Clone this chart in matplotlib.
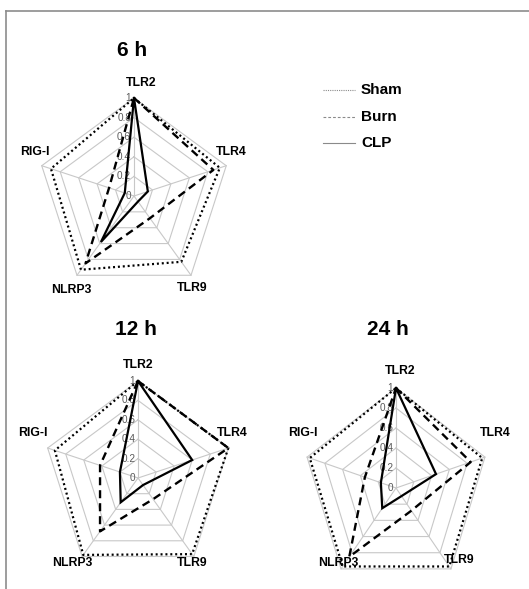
import numpy as np
import matplotlib
matplotlib.use("Agg")
import matplotlib.pyplot as plt
from matplotlib.lines import Line2D

plt.rcParams["font.family"] = ["Liberation Sans", "DejaVu Sans"]

# ---- data -------------------------------------------------------------
genes = ["TLR2", "TLR4", "TLR9", "NLRP3", "RIG-I"]
timepoints = ["6 h", "12 h", "24 h"]
groups = ["Sham", "Burn", "CLP"]
ring_values = [0, 0.2, 0.4, 0.6, 0.8, 1.0]
ring_labels = ["0", "0.2", "0.4", "0.6", "0.8", "1"]

sham_6h = [1.00, 0.93, 0.83, 0.93, 0.90]
burn_6h = [1.00, 0.86, 0.28, 0.85, 0.27]
clp_6h = [1.00, 0.15, 0.07, 0.58, 0.10]

sham_12h = [1.00, 1.00, 0.97, 0.98, 0.92]
burn_12h = [1.00, 1.00, 0.27, 0.68, 0.42]
clp_12h = [1.00, 0.60, 0.09, 0.31, 0.20]

sham_24h = [1.00, 0.97, 0.97, 0.97, 0.97]
burn_24h = [1.00, 0.84, 0.28, 0.85, 0.35]
clp_24h = [1.00, 0.45, 0.10, 0.25, 0.17]

series = {
    "6 h": [sham_6h, burn_6h, clp_6h],
    "12 h": [sham_12h, burn_12h, clp_12h],
    "24 h": [sham_24h, burn_24h, clp_24h],
}

# ---- layout (pixels) --------------------------------------------------
W, H = 529, 589
fig = plt.figure(figsize=(W / 100, H / 100), dpi=100)
fig.patch.set_facecolor("white")

panel_layout = {
    # centre x, centre y, radius x, radius y, title position
    "6 h": dict(c=(134, 196), r=(97, 98), title=(132, 50),
                lab=[(0.07, 1.15), (1.00, 0.45), (0.60, -0.94), (-0.65, -0.96), (-1.02, 0.45)]),
    "12 h": dict(c=(138, 478), r=(95, 97), title=(136, 329),
                 lab=[(0.00, 1.16), (0.99, 0.46), (0.57, -0.88), (-0.69, -0.88), (-1.11, 0.46)]),
    "24 h": dict(c=(396, 488), r=(93.5, 100), title=(388, 329),
                 lab=[(0.04, 1.17), (1.06, 0.55), (0.68, -0.72), (-0.62, -0.75), (-1.00, 0.55)]),
}

styles = [
    dict(color="black", lw=1.6, linestyle=(0, (0.9, 1.3)), dash_capstyle="butt"),
    dict(color="black", lw=1.7, linestyle=(0, (3.4, 2.1))),
    dict(color="black", lw=1.6, linestyle="-"),
]

angles = np.arange(len(genes)) * 2 * np.pi / len(genes)
ux, uy = np.sin(angles), np.cos(angles)
grid_color = "#c8c8c8"
PAD = 1.4

for tp in timepoints:
    lay = panel_layout[tp]
    cx, cy = lay["c"]
    rx, ry = lay["r"]
    ax = fig.add_axes([(cx - PAD * rx) / W, (H - cy - PAD * ry) / H,
                       2 * PAD * rx / W, 2 * PAD * ry / H])
    ax.set_xlim(-PAD, PAD)
    ax.set_ylim(-PAD, PAD)
    ax.axis("off")
    ax.patch.set_visible(False)

    # pentagon rings and spokes
    for v in ring_values[1:]:
        ax.plot(np.append(v * ux, v * ux[0]), np.append(v * uy, v * uy[0]),
                color=grid_color, lw=0.8, zorder=1)
    for k in range(len(genes)):
        ax.plot([0, ux[k]], [0, uy[k]], color=grid_color, lw=0.8, zorder=1)

    # radial tick labels along the TLR2 spoke
    for v, s in zip(ring_values, ring_labels):
        ax.text(-0.03, v, s, ha="right", va="center", fontsize=7.2,
                color="#5a5a5a", zorder=2)

    # group polygons
    for vals, st in zip(series[tp], styles):
        r = np.array(vals)
        ax.plot(np.append(r * ux, r[0] * ux[0]), np.append(r * uy, r[0] * uy[0]),
                zorder=3, solid_joinstyle="miter", **st)

    # gene labels
    for g, (lx, ly) in zip(genes, lay["lab"]):
        ax.text(lx, ly, g, ha="center", va="center", fontsize=8.8,
                fontweight="bold", color="black")

    # panel title
    tx, ty = lay["title"]
    fig.text(tx / W, 1 - ty / H, tp, ha="center", va="center",
             fontsize=15, fontweight="bold")

# ---- legend -----------------------------------------------------------
legend_y = [90, 117, 143]
legend_styles = [(0, (1.0, 1.0)), (0, (2.5, 1.8)), "-"]
for name, y, ls in zip(groups, legend_y, legend_styles):
    fig.add_artist(Line2D([323 / W, 355 / W], [1 - y / H, 1 - y / H],
                          transform=fig.transFigure, color="#8a8a8a",
                          lw=0.8, linestyle=ls))
    fig.text(361 / W, 1 - y / H, name, ha="left", va="center",
             fontsize=11, fontweight="bold")

# ---- frame ------------------------------------------------------------
frame_color = "#8c8c8c"
fig.add_artist(Line2D([6 / W, 1.0], [1 - 11 / H, 1 - 11 / H],
                      transform=fig.transFigure, color=frame_color, lw=1.2))
fig.add_artist(Line2D([6 / W, 6 / W], [0.0, 1 - 11 / H],
                      transform=fig.transFigure, color=frame_color, lw=1.2))

fig.savefig("out.png", dpi=100, facecolor="white")
